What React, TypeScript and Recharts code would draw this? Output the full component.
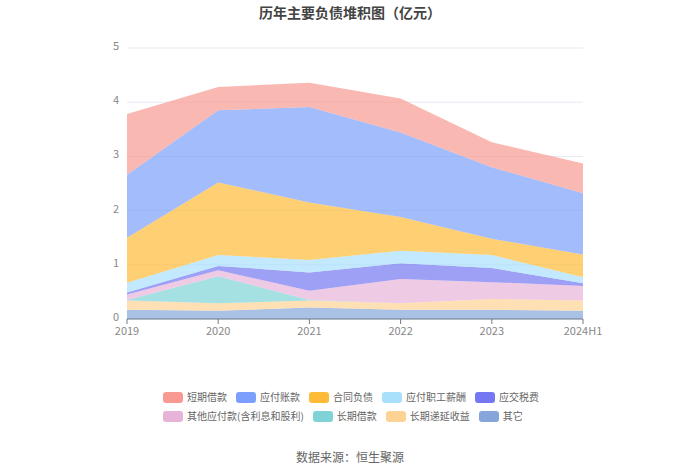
import React from 'react';
import { AreaChart, Area, XAxis, YAxis, CartesianGrid } from 'recharts';

const years = ['2019', '2020', '2021', '2022', '2023', '2024H1'];

// 单位：亿元，自下而上堆叠
const other = [0.17, 0.15, 0.21, 0.17, 0.17, 0.15];
const deferredIncome = [0.17, 0.14, 0.13, 0.12, 0.2, 0.19];
const longTermLoan = [0.01, 0.5, 0.01, 0, 0, 0];
const otherPayables = [0.1, 0.11, 0.17, 0.45, 0.31, 0.27];
const taxPayable = [0.04, 0.08, 0.34, 0.29, 0.26, 0.05];
const salaryPayable = [0.18, 0.2, 0.23, 0.23, 0.24, 0.11];
const contractLiab = [0.83, 1.34, 1.06, 0.62, 0.3, 0.42];
const accountsPayable = [1.16, 1.33, 1.76, 1.56, 1.32, 1.13];
const shortTermLoan = [1.12, 0.43, 0.45, 0.63, 0.46, 0.55];

const yTicks = [0, 1, 2, 3, 4, 5];

const series = [
  { key: 'other', name: '其它', values: other, color: '#86a6db' },
  { key: 'deferredIncome', name: '长期递延收益', values: deferredIncome, color: '#fdd394' },
  { key: 'longTermLoan', name: '长期借款', values: longTermLoan, color: '#7fd3d6' },
  { key: 'otherPayables', name: '其他应付款(含利息和股利)', values: otherPayables, color: '#e8b3d8' },
  { key: 'taxPayable', name: '应交税费', values: taxPayable, color: '#7477f1' },
  { key: 'salaryPayable', name: '应付职工薪酬', values: salaryPayable, color: '#a8e0fc' },
  { key: 'contractLiab', name: '合同负债', values: contractLiab, color: '#fdbb38' },
  { key: 'accountsPayable', name: '应付账款', values: accountsPayable, color: '#7b9ffb' },
  { key: 'shortTermLoan', name: '短期借款', values: shortTermLoan, color: '#f89a92' },
];

const legendRows = [
  ['shortTermLoan', 'accountsPayable', 'contractLiab', 'salaryPayable', 'taxPayable'],
  ['otherPayables', 'longTermLoan', 'deferredIncome', 'other'],
];

const data = years.map((year, i) => {
  const row: Record<string, number | string> = { year };
  series.forEach((s) => {
    row[s.key] = s.values[i];
  });
  return row;
});

const font = '"Noto Sans CJK SC", "Noto Sans", sans-serif';

export default function App() {
  return (
    <div
      style={{
        position: 'absolute',
        left: 0,
        top: 0,
        width: 700,
        height: 473,
        background: '#fff',
        fontFamily: font,
      }}
    >
      <div
        style={{
          position: 'absolute',
          top: 2,
          width: 700,
          textAlign: 'center',
          fontSize: 14,
          fontWeight: 'bold',
          color: '#444',
        }}
      >
        历年主要负债堆积图（亿元）
      </div>
      <AreaChart
        width={700}
        height={350}
        data={data}
        margin={{ top: 48, right: 117, left: 97, bottom: 1 }}
        style={{ position: 'absolute', top: 0, left: 0 }}
      >
        <CartesianGrid vertical={false} stroke="#e6e9f2" />
        <XAxis
          dataKey="year"
          height={30}
          tickLine={{ stroke: '#6e7a8a' }}
          axisLine={{ stroke: '#6e7a8a' }}
          tickSize={5}
          tick={{ fontSize: 11, fill: '#888', fontFamily: font, dy: 1 }}
          interval={0}
        />
        <YAxis
          width={30}
          domain={[0, 5]}
          ticks={yTicks}
          axisLine={false}
          tickLine={false}
          tick={{ fontSize: 11, fill: '#888', fontFamily: font, dy: -2 }}
        />
        {series.map((s) => (
          <Area
            key={s.key}
            type="linear"
            dataKey={s.key}
            name={s.name}
            stackId="a"
            stroke="none"
            fill={s.color}
            fillOpacity={0.7}
            isAnimationActive={false}
          />
        ))}
      </AreaChart>
      {legendRows.map((row, r) => (
        <div
          key={r}
          style={{
            position: 'absolute',
            top: 390 + r * 19,
            left: 163,
            display: 'flex',
            fontSize: 10,
            color: '#666',
            lineHeight: '14px',
            whiteSpace: 'nowrap',
          }}
        >
          {row.map((k) => {
            const s = series.find((x) => x.key === k)!;
            return (
              <span key={k} style={{ display: 'flex', alignItems: 'center', marginRight: 9 }}>
                <span
                  style={{
                    width: 20,
                    height: 11,
                    borderRadius: 3,
                    background: s.color,
                    marginRight: 4,
                  }}
                />
                {s.name}
              </span>
            );
          })}
        </div>
      ))}
      <div
        style={{
          position: 'absolute',
          top: 448,
          width: 700,
          textAlign: 'center',
          fontSize: 12,
          color: '#666',
        }}
      >
        数据来源：恒生聚源
      </div>
    </div>
  );
}
